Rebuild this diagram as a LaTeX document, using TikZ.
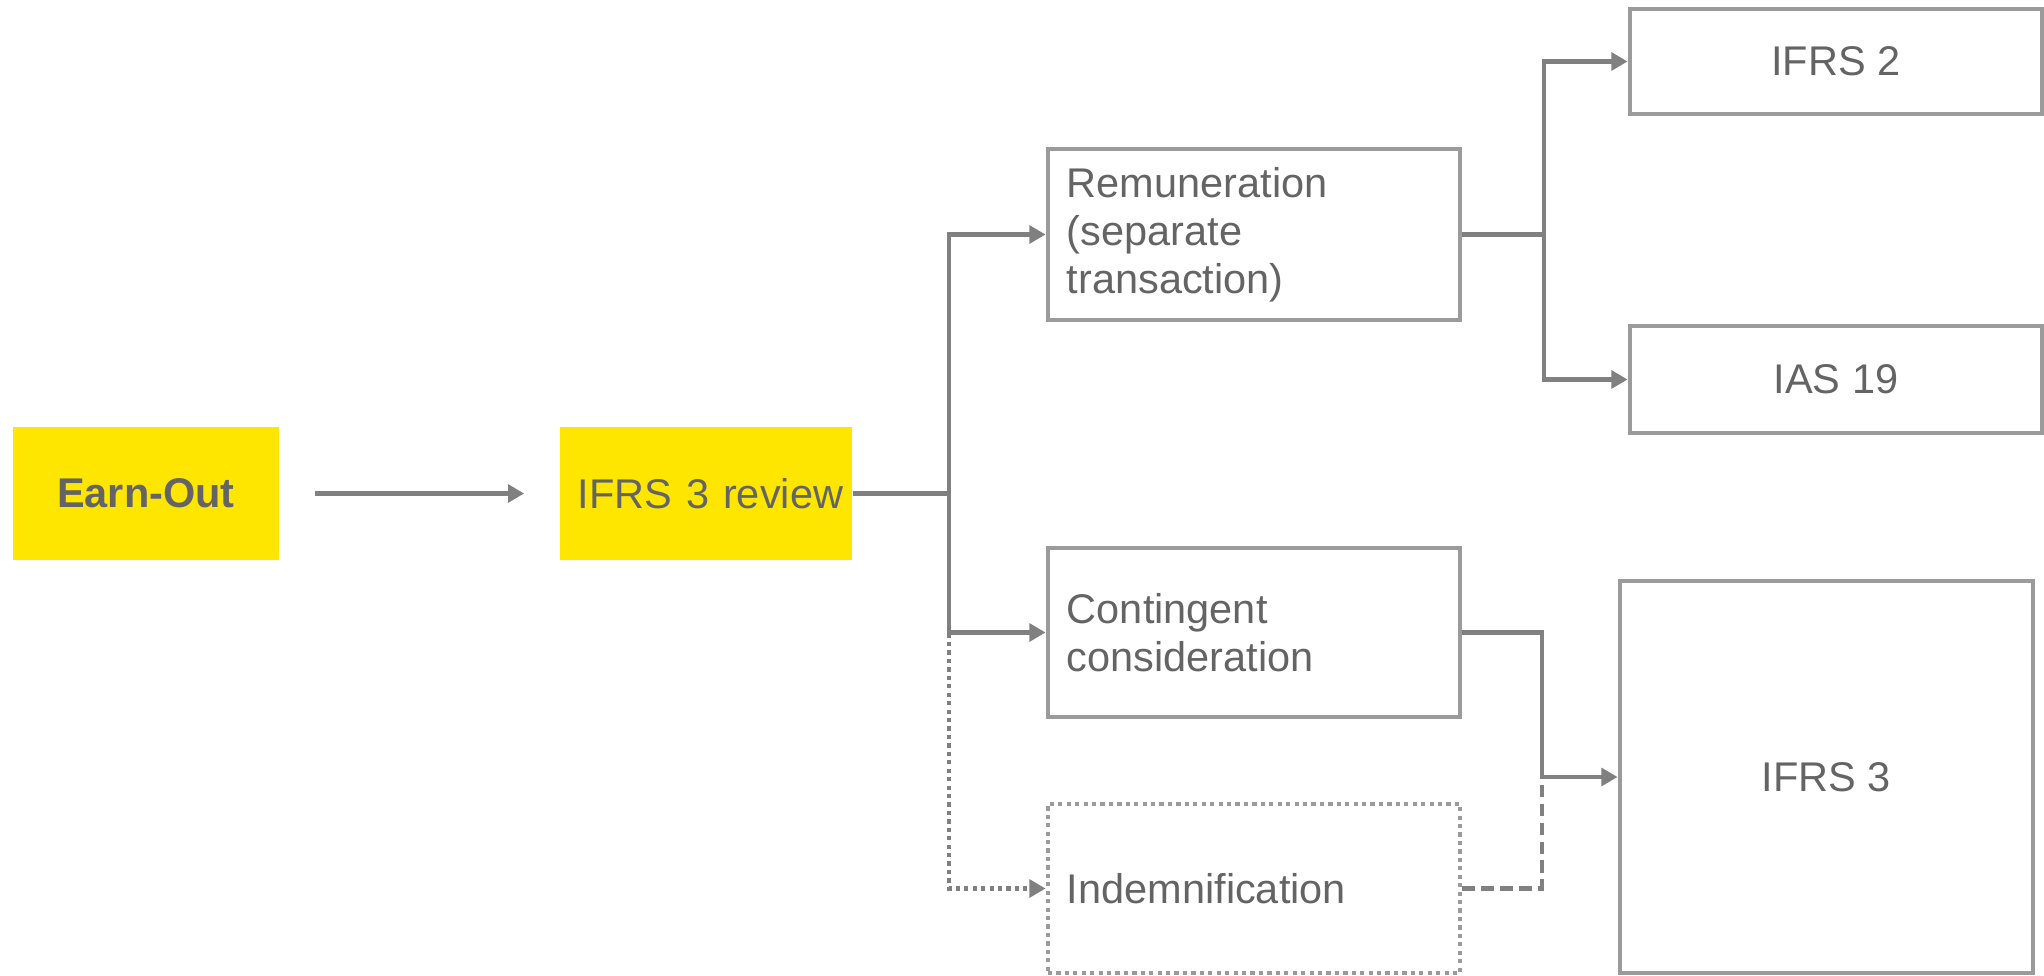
\documentclass[tikz,border=0pt]{standalone}
\usepackage{fontspec}
\setmainfont{Liberation Sans}
\usetikzlibrary{arrows.meta}
\definecolor{eyyellow}{HTML}{FFE600}
\definecolor{boxgray}{HTML}{9B9B9B}
\definecolor{linegray}{HTML}{808080}
\definecolor{textgray}{HTML}{646464}
\tikzset{
  lbl/.style={text=textgray, font=\fontsize{11.8}{13.7}\selectfont},
  yellowbox/.style={lbl, fill=eyyellow, minimum height=1.33cm, inner sep=0pt},
  graybox/.style={lbl, draw=boxgray, line width=1.3pt, minimum width=4.12cm, inner sep=0pt},
  leftbox/.style={graybox, text width=3.74cm, inner xsep=0.19cm, align=left},
  conn/.style={draw=linegray, line width=1.25pt},
  arrconn/.style={conn, -{Triangle[length=4.6pt,width=5pt]}},
  dotconn/.style={arrconn, dash pattern=on 1.2pt off 1.2pt},
  dashconn/.style={conn, dash pattern=on 3.6pt off 1.8pt}
}
\begin{document}
\begin{tikzpicture}[x=0.01cm,y=-0.01cm]
\useasboundingbox (0,0) rectangle (2044,975);
% left part
\node[yellowbox, minimum width=2.66cm, font=\fontsize{11.8}{13.7}\selectfont\bfseries] (earn) at (146,493.5) {Earn-Out};
\node[yellowbox, text width=2.56cm, inner xsep=0.18cm, align=left] (review) at (706,493.5) {\mbox{IFRS 3 review}};
\draw[arrconn, shorten <=0.35cm, shorten >=0.35cm] (earn) -- (review);
% middle boxes
\node[leftbox, minimum height=1.71cm] (remun) at (1254,234.5) {Remuneration\\(separate\\transaction)};
\node[leftbox, minimum height=1.69cm] (conting) at (1254,632.5) {Contingent\\consideration};
\node[leftbox, minimum height=1.69cm, dash pattern=on 1.2pt off 1.2pt] (indem) at (1254,888.5) {Indemnification};
% right boxes
\node[graybox, minimum height=1.05cm] (ifrstwo) at (1836,61.5) {IFRS 2};
\node[graybox, minimum height=1.07cm] (iasnineteen) at (1836,379.5) {IAS 19};
\node[graybox, minimum width=4.13cm, minimum height=3.92cm] (ifrsthree) at (1826.5,777) {IFRS 3};
% junctions
\coordinate (jone) at (949,493.5);
\coordinate (jtwo) at (1544,234.5);
\coordinate (jthree) at (1542,777);
\draw[dotconn] (review.east) -- (jone) |- (indem.west);
\draw[conn] (review.east) -- (jone);
\draw[arrconn] (jone) |- (remun.west);
\draw[arrconn] (jone) |- (conting.west);
\draw[conn] (remun.east) -- (jtwo);
\draw[arrconn] (jtwo) |- (ifrstwo.west);
\draw[arrconn] (jtwo) |- (iasnineteen.west);
\draw[dashconn] (indem.east) -| (jthree);
\draw[arrconn] (conting.east) -| (jthree) -- (ifrsthree.west);
\end{tikzpicture}
\end{document}
